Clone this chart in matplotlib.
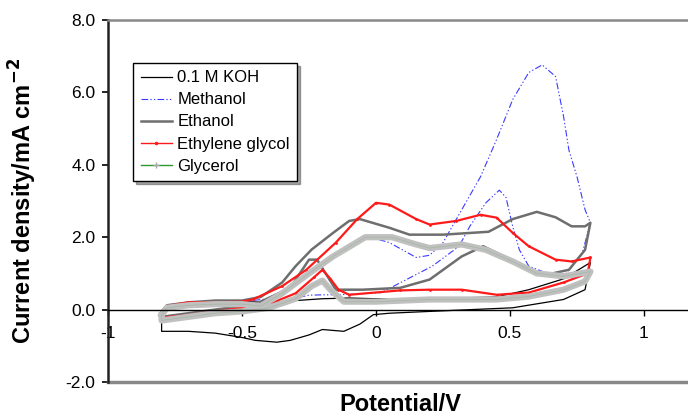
import matplotlib
matplotlib.use("Agg")
import matplotlib.pyplot as plt
import matplotlib.patheffects as pe
from matplotlib.lines import Line2D

plt.rcParams['font.family'] = ['Liberation Sans', 'DejaVu Sans']

# 0.1 M KOH (blank)
koh_x = [-0.8, -0.78, -0.7, -0.6, -0.5, -0.4, -0.3, -0.2, -0.1, 0.0, 0.2, 0.45, 0.57, 0.7, 0.8,
         0.78, 0.7, 0.51, 0.2, 0.05, -0.01, -0.06, -0.12, -0.2, -0.25, -0.32, -0.37, -0.45, -0.5, -0.6, -0.7, -0.8, -0.8]
koh_y = [-0.2, 0.05, 0.15, 0.25, 0.22, 0.2, 0.25, 0.3, 0.32, 0.3, 0.3, 0.35, 0.55, 0.85, 1.3,
         0.55, 0.28, 0.05, -0.05, -0.1, -0.14, -0.4, -0.6, -0.55, -0.7, -0.85, -0.9, -0.85, -0.77, -0.65, -0.6, -0.6, -0.2]

# Methanol
meoh_x = [-0.8, -0.78, -0.7, -0.6, -0.5, -0.4, -0.32, -0.25, -0.15, -0.06, -0.02, 0.05, 0.15, 0.2, 0.25, 0.32, 0.39, 0.45,
          0.51, 0.57, 0.62, 0.67, 0.7, 0.72, 0.75, 0.78, 0.8,
          0.77, 0.71, 0.65, 0.57, 0.535, 0.51, 0.485, 0.46, 0.41, 0.35, 0.31, 0.21, 0.02, -0.1, -0.25, -0.4, -0.5, -0.6, -0.7, -0.8, -0.8]
meoh_y = [-0.1, 0.1, 0.17, 0.2, 0.22, 0.3, 0.6, 0.95, 1.5, 1.96, 2.0, 1.85, 1.44, 1.5, 1.85, 2.76, 3.67, 4.7,
          5.8, 6.55, 6.76, 6.44, 5.33, 4.4, 3.67, 2.76, 2.4,
          1.57, 1.0, 0.97, 1.2, 1.65, 2.3, 3.1, 3.3, 2.95, 2.3, 1.75, 1.2, 0.47, 0.42, 0.4, 0.15, 0.05, -0.05, -0.15, -0.2, -0.1]

# Ethanol
etoh_x = [-0.8, -0.78, -0.7, -0.6, -0.5, -0.43, -0.35, -0.3, -0.24, -0.16, -0.1, -0.06, 0.05, 0.125, 0.25, 0.42, 0.51, 0.6, 0.67, 0.73, 0.78, 0.8,
          0.78, 0.72, 0.64, 0.57, 0.45, 0.4, 0.32, 0.2, 0.09, -0.05, -0.15, -0.22, -0.25, -0.32, -0.45, -0.6, -0.7, -0.8, -0.8]
etoh_y = [-0.05, 0.12, 0.2, 0.25, 0.25, 0.35, 0.75, 1.2, 1.66, 2.12, 2.45, 2.5, 2.26, 2.07, 2.07, 2.15, 2.5, 2.7, 2.55, 2.3, 2.3, 2.4,
          1.65, 1.1, 0.97, 1.1, 1.57, 1.75, 1.47, 0.83, 0.6, 0.55, 0.55, 1.38, 1.38, 0.6, 0.15, 0.0, -0.1, -0.2, -0.05]

# Ethylene glycol
eg_x = [-0.8, -0.78, -0.7, -0.6, -0.5, -0.46, -0.35, -0.26, -0.15, -0.07, 0.0, 0.05, 0.15, 0.2, 0.3, 0.39, 0.45, 0.51, 0.57, 0.67, 0.73, 0.8,
        0.79, 0.7, 0.57, 0.45, 0.32, 0.2, 0.09, -0.1, -0.14, -0.17, -0.2, -0.23, -0.3, -0.4, -0.5, -0.6, -0.7, -0.8, -0.8]
eg_y = [-0.1, 0.1, 0.2, 0.2, 0.22, 0.28, 0.65, 1.1, 1.85, 2.5, 2.95, 2.9, 2.5, 2.35, 2.45, 2.62, 2.54, 2.12, 1.75, 1.38, 1.33, 1.44,
        1.0, 0.75, 0.47, 0.41, 0.55, 0.55, 0.53, 0.41, 0.55, 0.85, 1.1, 0.9, 0.45, 0.15, 0.05, -0.05, -0.15, -0.22, -0.1]

# Glycerol
gly_x = [-0.8, -0.78, -0.7, -0.6, -0.5, -0.43, -0.35, -0.25, -0.16, -0.04, 0.06, 0.15, 0.2, 0.32, 0.41, 0.51, 0.6, 0.7, 0.8,
         0.78, 0.7, 0.57, 0.45, 0.2, 0.0, -0.12, -0.17, -0.2, -0.24, -0.3, -0.4, -0.5, -0.6, -0.7, -0.8, -0.8]
gly_y = [-0.15, 0.05, 0.12, 0.15, 0.15, 0.1, 0.45, 1.0, 1.47, 2.0, 2.0, 1.8, 1.7, 1.8, 1.65, 1.33, 1.0, 0.92, 1.05,
         0.78, 0.55, 0.36, 0.28, 0.28, 0.22, 0.22, 0.55, 0.8, 0.65, 0.3, 0.05, -0.05, -0.1, -0.2, -0.3, -0.15]

x_ticks = [-1, -0.5, 0, 0.5, 1]
x_tick_labels = ["-1", "-0.5", "0", "0.5", "1"]
y_ticks = [-2, 0, 2, 4, 6, 8]

fig = plt.figure(figsize=(6.88, 4.17), dpi=100)
ax = fig.add_axes([108 / 688, 35 / 417, 589.6 / 688, 362 / 417])

ax.plot(koh_x, koh_y, color='black', lw=0.9)
ax.plot(meoh_x, meoh_y, color='#3a3aff', lw=0.8, dashes=(6, 2, 1.2, 2, 1.2, 2))
ax.plot(etoh_x, etoh_y, color='#6e6e6e', lw=1.8)
ax.plot(eg_x, eg_y, color='#ff1a1a', lw=1.6, marker='.', markersize=2)
ax.plot(gly_x, gly_y, color='#a3b8a3', lw=0.5,
        path_effects=[pe.Stroke(linewidth=4.5, foreground='#c0c0c0'), pe.Normal()])

ax.set_xlim(-1, 1.2)
ax.set_ylim(-2, 8)

# x axis drawn through zero, gray frame around the plot area
ax.spines['bottom'].set_position(('data', 0))
ax.spines['bottom'].set_linewidth(1.0)
ax.spines['left'].set_linewidth(1.8)
ax.spines['left'].set_color('#222222')
ax.spines['top'].set_color('#888888')
ax.spines['top'].set_linewidth(1.8)
ax.spines['right'].set_visible(False)
ax.axhline(-2, color='#888888', lw=2.5, clip_on=False)

ax.set_xticks(x_ticks)
ax.set_xticklabels(x_tick_labels)
ax.set_yticks(y_ticks)
ax.set_yticklabels([f"{v:.1f}" for v in y_ticks])
ax.tick_params(axis='x', direction='out', length=4, width=1, pad=8, labelsize=12.5)
ax.tick_params(axis='y', direction='out', length=4, width=1.2, pad=5, labelsize=12.5)

fig.text(23 / 688, 1 - 201 / 417, r"Current density/mA cm$^{\mathbf{-2}}$", rotation=90,
         fontsize=17, fontweight='bold', ha='center', va='center')
fig.text(400 / 688, 6 / 417, "Potential/V", fontsize=17, fontweight='bold', ha='center', va='baseline')

handles = [
    Line2D([], [], color='black', lw=0.9),
    Line2D([], [], color='#3a3aff', lw=0.8, dashes=(6, 2, 1.2, 2, 1.2, 2)),
    Line2D([], [], color='#6e6e6e', lw=1.8),
    Line2D([], [], color='#ff1a1a', lw=1.0, marker='.', markersize=3),
    Line2D([], [], color='#2e9a2e', lw=1.0, marker='+', markersize=5, markeredgecolor='#a8a8a8'),
]
labels = ['0.1 M KOH', 'Methanol', 'Ethanol', 'Ethylene glycol', 'Glycerol']
leg = ax.legend(handles, labels, loc='upper left', bbox_to_anchor=(133 / 688, 1 - 63 / 417),
                bbox_transform=fig.transFigure, borderaxespad=0,
                fontsize=12, frameon=True, fancybox=False, shadow=True, edgecolor='black',
                handlelength=1.9, handletextpad=0.3, labelspacing=0.42, borderpad=0.45)
leg.get_frame().set_linewidth(1.0)

fig.savefig("out.png", dpi=100)
